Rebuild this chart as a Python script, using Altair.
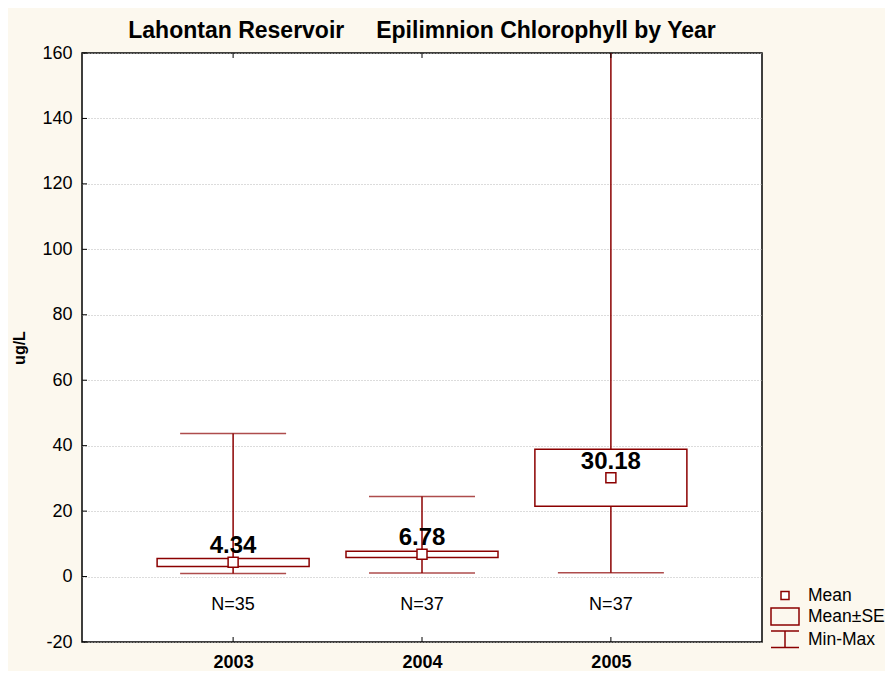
import altair as alt
import pandas as pd

# ---- data ----
years = ["2003", "2004", "2005"]
means = [4.34, 6.78, 30.18]
se_low = [3.1, 5.8, 21.5]
se_high = [5.5, 7.7, 38.9]
mins = [0.9, 1.1, 1.2]
maxs = [43.7, 24.5, 165.0]   # 2005 maximum runs off the top of the axis
counts = [35, 37, 37]
mean_labels = ["4.34", "6.78", "30.18"]
y_ticks = [-20, 0, 20, 40, 60, 80, 100, 120, 140, 160]
legend_labels = ["Mean", "Mean\u00b1SE", "Min-Max"]
n_label_level = -8.7

df = pd.DataFrame({
    "year": years, "mean": means, "se_low": se_low, "se_high": se_high,
    "min": mins, "max": maxs, "mean_label": mean_labels,
    "n_label": ["N=%d" % n for n in counts],
})
ticks_df = pd.DataFrame({"v": y_ticks})
one = pd.DataFrame({"k": [0]})

RED = "#8b0000"
FONT = "Liberation Sans"
W, H = 680, 589

y_scale = alt.Scale(domain=[-20, 160], nice=False, zero=False)
x_enc = alt.X("year:O", scale=alt.Scale(type="point", padding=0.8),
              axis=alt.Axis(title=None, labelFont=FONT, labelFontSize=18, labelFontWeight="bold",
                            labelAngle=0, ticks=False, domain=False, grid=False,
                            labelPadding=11, labelColor="black"))
y_axis = alt.Axis(values=y_ticks, labelExpr="'' + datum.value",
                  labelFont=FONT, labelFontSize=18, labelColor="black",
                  ticks=False, domain=False, labelPadding=10,
                  grid=True, gridColor="#b8b8b8", gridDash=[1, 2], gridWidth=1,
                  title="ug/L", titleFont=FONT, titleFontSize=16, titleFontWeight="bold",
                  titleColor="black", titlePadding=14)

base = alt.Chart(df)

whisk = base.mark_rule(color=RED, strokeWidth=1.5, clip=True).encode(
    x=x_enc, y=alt.Y("min:Q", scale=y_scale, axis=y_axis), y2="max:Q")
cap_lo = base.mark_tick(color=RED, size=106, thickness=1.5, clip=True).encode(x=x_enc, y="min:Q")
cap_hi = base.mark_tick(color=RED, size=106, thickness=1.5, clip=True).encode(x=x_enc, y="max:Q")
box = base.mark_bar(size=152, fill="white", stroke=RED, strokeWidth=1.5).encode(
    x=x_enc, y="se_low:Q", y2="se_high:Q")
mean_pt = base.mark_square(size=100, filled=True, fill="white", stroke=RED, strokeWidth=1.5,
                           opacity=1).encode(x=x_enc, y="mean:Q")
mean_txt = base.mark_text(font=FONT, fontSize=24, fontWeight="bold", baseline="alphabetic",
                          dy=-9, color="black").encode(x=x_enc, y="mean:Q", text="mean_label:N")
n_txt = base.mark_text(font=FONT, fontSize=18, baseline="middle", color="black").encode(
    x=x_enc, y=alt.datum(n_label_level), text="n_label:N")

# inward frame ticks
top_ticks = base.mark_rule(color="black", strokeWidth=1).encode(
    x=x_enc, y=alt.value(0), y2=alt.value(5))
bot_ticks = base.mark_rule(color="black", strokeWidth=1).encode(
    x=x_enc, y=alt.value(H), y2=alt.value(H - 5))
left_ticks = alt.Chart(ticks_df).mark_rule(color="black", strokeWidth=1).encode(
    y="v:Q", x=alt.value(0), x2=alt.value(5))

# legend (drawn)
lg = alt.Chart(one)
lg_sq = lg.mark_square(size=64, filled=True, fill="white", stroke=RED, strokeWidth=1.5,
                       opacity=1).encode(x=alt.value(703), y=alt.value(542.5))
lg_box = lg.mark_rect(fill="transparent", stroke=RED, strokeWidth=1.5).encode(
    x=alt.value(689), x2=alt.value(717), y=alt.value(555), y2=alt.value(572))
lg_c1 = lg.mark_rule(color=RED, strokeWidth=1.5).encode(
    x=alt.value(689), x2=alt.value(717), y=alt.value(578))
lg_c2 = lg.mark_rule(color=RED, strokeWidth=1.5).encode(
    x=alt.value(689), x2=alt.value(717), y=alt.value(594.5))
lg_st = lg.mark_rule(color=RED, strokeWidth=1.5).encode(
    x=alt.value(703), y=alt.value(578), y2=alt.value(594.5))
lg_t = [lg.mark_text(font=FONT, fontSize=17.5, align="left", baseline="middle", color="black").encode(
    x=alt.value(726), y=alt.value(yy), text=alt.value(t))
    for t, yy in zip(legend_labels, [543, 564, 587])]

chart = alt.layer(
    whisk, cap_lo, cap_hi, box, mean_pt, mean_txt, n_txt,
    top_ticks, bot_ticks, left_ticks,
    lg_sq, lg_box, lg_c1, lg_c2, lg_st, *lg_t,
).properties(
    width=W, height=H,
    title=alt.TitleParams(
        text="Lahontan Reservoir\u00a0\u00a0\u00a0\u00a0\u00a0Epilimnion Chlorophyll by Year",
        font=FONT, fontSize=23, fontWeight="bold", color="black", anchor="middle", offset=1),
    background="#fcf8ee",
    padding={"top": 12, "left": 3, "right": 0, "bottom": 0},
).configure_view(stroke="black", strokeWidth=1.5, fill="white")

chart.save("out.html", embed_options={"renderer": "svg", "actions": False})
